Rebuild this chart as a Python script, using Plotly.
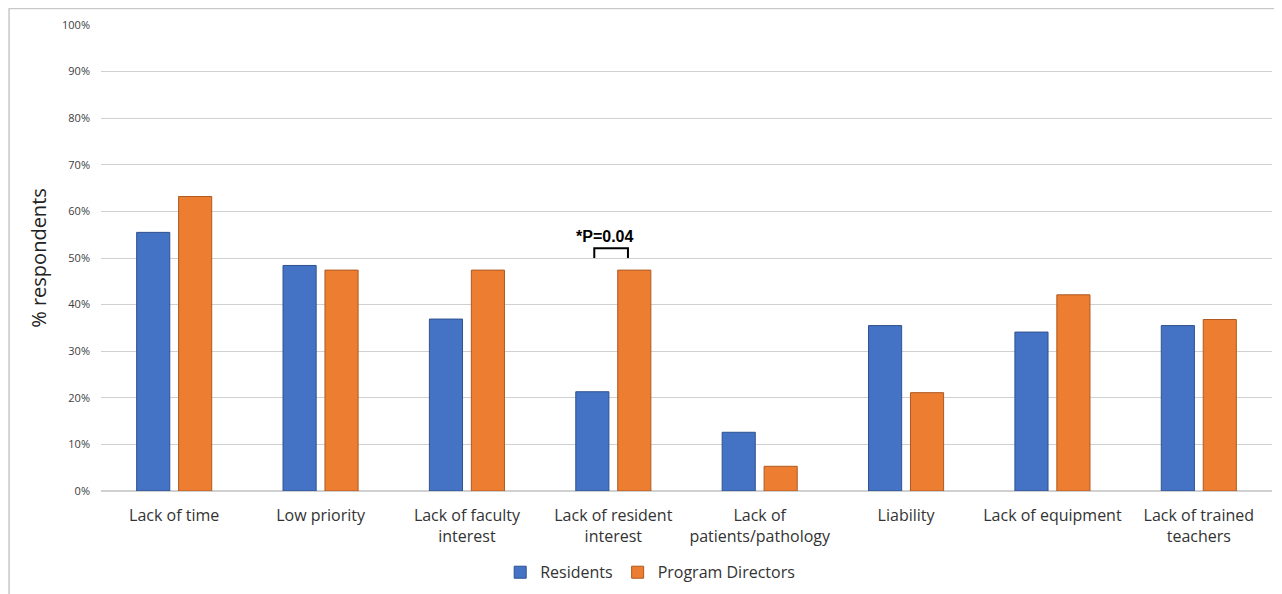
import plotly.graph_objects as go

categories = ["Lack of time", "Low priority", "Lack of faculty<br>interest", "Lack of resident<br>interest",
              "Lack of<br>patients/pathology", "Liability", "Lack of equipment", "Lack of trained<br>teachers"]
residents = [55.5, 48.4, 36.9, 21.3, 12.6, 35.5, 34.1, 35.5]
program_directors = [63.2, 47.4, 47.4, 47.4, 5.3, 21.1, 42.1, 36.8]
y_ticks = [0, 10, 20, 30, 40, 50, 60, 70, 80, 90, 100]
y_tick_labels = [f"{v}%" for v in y_ticks]

fig = go.Figure()
fig.add_trace(go.Bar(x=categories, y=residents, name="Residents",
                     marker=dict(color="#4472C4", line=dict(color="#2F528F", width=1))))
fig.add_trace(go.Bar(x=categories, y=program_directors, name="Program Directors",
                     marker=dict(color="#ED7D31", line=dict(color="#AE5A21", width=1))))

# significance bracket
fig.add_shape(type="path", xref="x", yref="y",
              path="M 2.87,50.0 L 2.87,52.1 L 3.10,52.1 L 3.10,50.0",
              line=dict(color="black", width=2))
fig.add_annotation(x=2.94, y=54.7, xref="x", yref="y", text="<b>*P=0.04</b>",
                   showarrow=False, font=dict(family="Liberation Sans, Arial", size=16, color="black"))

# outer frame
fig.add_shape(type="rect", xref="paper", yref="paper", x0=-0.0785, x1=1.05, y0=-0.5, y1=1.0353,
              line=dict(color="#C8C8C8", width=1.5), layer="below")

fig.update_layout(
    width=1282, height=594,
    margin=dict(l=92.5, r=18, t=16.5, b=110.5, autoexpand=False),
    paper_bgcolor="white", plot_bgcolor="white",
    barmode="group", bargap=0.427, bargroupgap=0.21,
    font=dict(family="Open Sans, Noto Sans", color="#333333"),
    legend=dict(orientation="h", x=0.469, xanchor="center", y=-0.1745, yanchor="middle",
                font=dict(size=16, color="#333333"), itemwidth=30),
    xaxis=dict(tickfont=dict(size=16, color="#333333"), showgrid=False, showline=False,
               ticks="", zeroline=False, ticklabelstandoff=13),
    yaxis=dict(range=[0, 100], tickvals=y_ticks, ticktext=y_tick_labels,
               tickfont=dict(size=11, color="#404040"), gridcolor="#D0D0D0", gridwidth=1,
               zeroline=True, zerolinecolor="#D0D0D0", ticks="", showline=False,
               ticklabelstandoff=10,
               title=dict(text="% respondents", font=dict(size=20, color="#222222"), standoff=10)),
)

fig.write_html("out.html")
